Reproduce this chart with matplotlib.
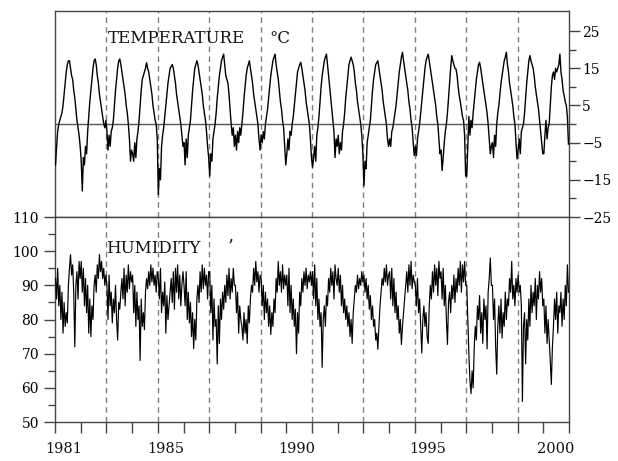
import matplotlib
matplotlib.use("Agg")
import matplotlib.pyplot as plt
import numpy as np

plt.rcParams['font.family'] = ['DejaVu Serif']

# ---- data: half-monthly values (24 per year) ----
years = list(range(1981, 2001))

t1981 = [-11,-6,-2,0,1,2,3,5,8,11,14,16,17,17,15,13,12,9,7,4,1,-1,-3,-6]
t1982 = [-10,-18,-9,-11,-6,-8,-2,2,6,9,12,15,17,17.5,16,13,11,8,6,4,2,0,-1,1]
t1983 = [-2,-7,-3,-6,-2,-1,1,5,9,12,15,17,17.5,16,14,12,10,8,5,3,0,-4,-10,-7]
t1984 = [-8,-10,-5,-9,-4,-2,1,5,9,12,13,14,15,16.5,15,14,12,10,8,5,3,1,0,-4]
t1985 = [-19,-12,-15,-6,-3,-1,2,5,8,11,13,15,15.5,16,15,13,11,8,6,4,2,0,-3,-6]
t1986 = [-5,-11,-4,-9,-3,-1,1,5,9,12,15,16,17,16,14,12,10,8,5,3,1,-2,-6,-9]
t1987 = [-14,-8,-10,-4,-2,0,3,7,10,13,15,17,18,18.8,16,13,12,11,8,4,0,-3,-1,-6]
t1988 = [-3,-7,-2,-5,-1,-3,0,3,7,10,13,15,16,17,15,13,11,8,6,4,2,0,-4,-7]
t1989 = [-3,-5,-2,-4,0,2,4,7,10,13,15,17,18,18.8,16,14,12,9,6,4,1,-1,-6,-11]
t1990 = [-8,-4,-7,-2,-3,0,2,5,8,11,14,15,16,16.6,15,13,11,9,6,4,2,0,-4,-9]
t1991 = [-11.6,-9,-6,-10,-3,-1,2,6,10,13,15,17,18,18.8,16,13,10,7,4,1,-2,-9,-4,-6]
t1992 = [-3,-8,-5,-7,-2,0,3,7,10,13,16,17,18,17,16,14,11,9,6,4,2,0,-3,-8]
t1993 = [-16.6,-10,-12,-5,-3,-1,1,5,9,12,14,16,16.5,17,15,13,11,9,6,4,2,0,-4,-6]
t1994 = [-4,-6,-2,-1,1,3,5,8,11,14,16,18,19.3,17,15,13,11,9,6,4,1,-1,-5,-8.5]
t1995 = [-6,-8.5,-4,-2,0,3,6,9,12,15,17,18,18.8,17,15,13,11,9,7,5,2,0,-4,-8]
t1996 = [-7,-12.5,-9,-5,-2,0,3,7,11,15,18.4,17,16,15,14.8,13,10,7.6,6,4,2,1,-3,-14]
t1997 = [-14,-6,2,-3,1,-1,3,6,9,12,14,16,16.6,15,13,11,9,7,5,3,0,-4,-8,-6]
t1998 = [-5,-9,-3,-6,0,3,5,8,11,13,15,17,18,19.3,16,14,11,9,7,5,2,0,-5,-9.4]
t1999 = [-7,-4,-8,-2,-1,0,3,7,11,14,17,18.4,17,16,15,13,10,8,6,4,1,-2,-5,-8]
t2000 = [-8,-3,1,-4,-1,0,5,10,13,14,12,15,14,15,16,18.8,14,12,9,7.6,6,5,2,-5.4]

h1981 = [92,86,95,84,90,80,88,76,85,78,82,79,90,95,99,93,96,88,72,90,94,86,97,92]
h1982 = [97,88,95,84,92,82,90,76,86,75,84,80,90,93,88,96,92,99,94,97,92,95,90,93]
h1983 = [90,80,93,84,88,79,86,82,90,80,74,85,83,88,92,86,95,84,93,88,96,89,94,91]
h1984 = [93,82,90,78,88,80,84,68,86,78,82,77,88,92,89,94,90,96,91,95,90,93,88,94]
h1985 = [92,86,95,82,88,84,91,76,87,80,84,88,92,85,94,83,95,88,96,86,93,84,90,94]
h1986 = [90,84,94,80,88,79,85,75,82,71.5,80,74,86,90,85,94,88,96,89,95,90,93,86,94]
h1987 = [94,82,90,74,86,78,80,67,84,73,86,80,88,83,90,85,93,87,95,86,92,88,95,90]
h1988 = [90,82,88,76,84,80,78,74,82,76,80,73,84,79,86,90,88,95,90,97,91,94,88,93]
h1989 = [92,84,90,80,88,82,86,78,84,75.6,82,78,86,82,92,88,97,90,94,88,96,89,93,90]
h1990 = [93,84,95,82,90,80,86,78,83,70,82,76,88,84,92,88,94,90,95,89,93,91,94,90]
h1991 = [94,86,96,84,92,80,86,78,82,66,80,84,78,87,84,92,88,95,90,94,86,96,92,90]
h1992 = [95,88,93,84,90,82,86,80,84,78,82,75,80,73,82,86,90,88,93,89,92,90,94,91]
h1993 = [93,88,92,86,90,83,87,80,84,78,80,74,76,71.3,78,84,88,92,90,95,91,96,90,93]
h1994 = [94,86,95,84,92,82,88,80,84,76,80,72.7,78,82,86,90,94,88,96,90,97,89,93,91]
h1995 = [90,84,92,82,86,78,70.2,80,84,78,82,75,73,84,90,86,94,88,96,90,95,87,97,92]
h1996 = [94,86,95,84,90,80,72.7,85,88,82,90,86,93,85,92,88,95,90,97,88,96,91,97,90]
h1997 = [90,80,70,62,58.3,65,60,72,78,74,84,80,87,76,82,73,86,80,84,71.4,88,92,98,90]
h1998 = [90,80,86,72,64,78,84,76,86,74.6,82,78,88,80,86,84,92,88,97,86,90,84,92,88]
h1999 = [93,88,90,84,56,78,82,67,80,74,86,78,90,82,88,84,92,80,90,86,94,88,92,84]
h2000 = [86,76,84,73,80,74,68,61,72,78,86,80,88,76,84,82,88,78,86,80,90,84,96,88]

temp_years = [t1981, t1982, t1983, t1984, t1985, t1986, t1987, t1988, t1989, t1990,
              t1991, t1992, t1993, t1994, t1995, t1996, t1997, t1998, t1999, t2000]
hum_years = [h1981, h1982, h1983, h1984, h1985, h1986, h1987, h1988, h1989, h1990,
             h1991, h1992, h1993, h1994, h1995, h1996, h1997, h1998, h1999, h2000]

label_years = [1981, 1985, 1990, 1995, 2000]
temp_ticks = [25, 15, 5, -5, -15, -25]
hum_ticks = [50, 60, 70, 80, 90, 100, 110]
dashed_years = [1983, 1985, 1987, 1989, 1991, 1993, 1995, 1997, 1999]

# ---- build time axis ----
t_vals, temp_vals, hum_vals = [], [], []
for y, tv, hv in zip(years, temp_years, hum_years):
    n = len(tv)
    for i in range(n):
        t_vals.append(y + (i + 0.5) / n)
        temp_vals.append(tv[i])
        hum_vals.append(hv[i])

W, H = 618, 461
fig = plt.figure(figsize=(W / 100, H / 100), dpi=100)
L, R = 55 / W, 569 / W
ytop, ymid, ybot = 1 - 11 / H, 1 - 217 / H, 1 - 422 / H
ax1 = fig.add_axes([L, ymid, R - L, ytop - ymid])
ax2 = fig.add_axes([L, ybot, R - L, ymid - ybot], sharex=ax1)

spine_c = '#444444'
line_c = '#000000'
for ax in (ax1, ax2):
    for s in ax.spines.values():
        s.set_color(spine_c)
        s.set_linewidth(1.0)
    for xv in dashed_years:
        ax.axvline(xv, color='#808080', lw=1.0, ls=(0, (4, 3)), zorder=1)

# Temperature
ax1.plot(t_vals, temp_vals, color=line_c, lw=1.0, zorder=3)
ax1.axhline(0, color='#555555', lw=1.0, zorder=2)
ax1.set_ylim(-25, 30.4)
ax1.set_xlim(1981, 2001)
ax1.yaxis.tick_right()
ax1.set_yticks(temp_ticks)
ax1.set_yticklabels([str(v).replace('-', '\u2212') for v in temp_ticks], fontsize=10)
ax1.set_yticks([20, 10, 0, -10, -20], minor=True)
ax1.tick_params(axis='y', which='major', length=8, width=1, color=spine_c, pad=1.5, direction='out')
ax1.tick_params(axis='y', which='minor', length=5, width=1, color=spine_c, direction='out')
ax1.tick_params(axis='x', which='both', bottom=False, labelbottom=False)
ax1.text(1983.05, 21.8, 'TEMPERATURE', fontsize=12, ha='left', va='baseline', color='#111111')
ax1.text(1989.35, 21.8, '°C', fontsize=12, ha='left', va='baseline', color='#111111')

# Humidity
ax2.plot(t_vals, hum_vals, color=line_c, lw=0.85, zorder=3)
ax2.set_ylim(50, 110)
ax2.set_yticks(hum_ticks)
ax2.set_yticklabels([str(v) for v in hum_ticks], fontsize=10)
ax2.set_yticks([55, 65, 75, 85, 95, 105], minor=True)
ax2.tick_params(axis='y', which='major', length=8, width=1, color=spine_c, pad=3.5, direction='out')
ax2.tick_params(axis='y', which='minor', length=5, width=1, color=spine_c, direction='out')
ax2.set_xticks(list(range(1981, 2002)))
ax2.set_xticklabels([])
ax2.tick_params(axis='x', which='major', length=8, width=1, color=spine_c, direction='out')
label_offsets = [0.35, 0.3, 0.42, 0.5, 0.48]
for yv, off in zip(label_years, label_offsets):
    ax2.text(yv + off, -0.132, str(yv), transform=ax2.get_xaxis_transform(),
             ha='center', va='center', fontsize=10.5, color='#111111')
ax2.text(1983.0, 99.5, 'HUMIDITY', fontsize=12, ha='left', va='baseline', color='#111111')
ax2.text(1987.72, 99.6, '\u2019', fontsize=13, ha='left', va='baseline', color='#111111')

fig.savefig('out.png', dpi=100)
